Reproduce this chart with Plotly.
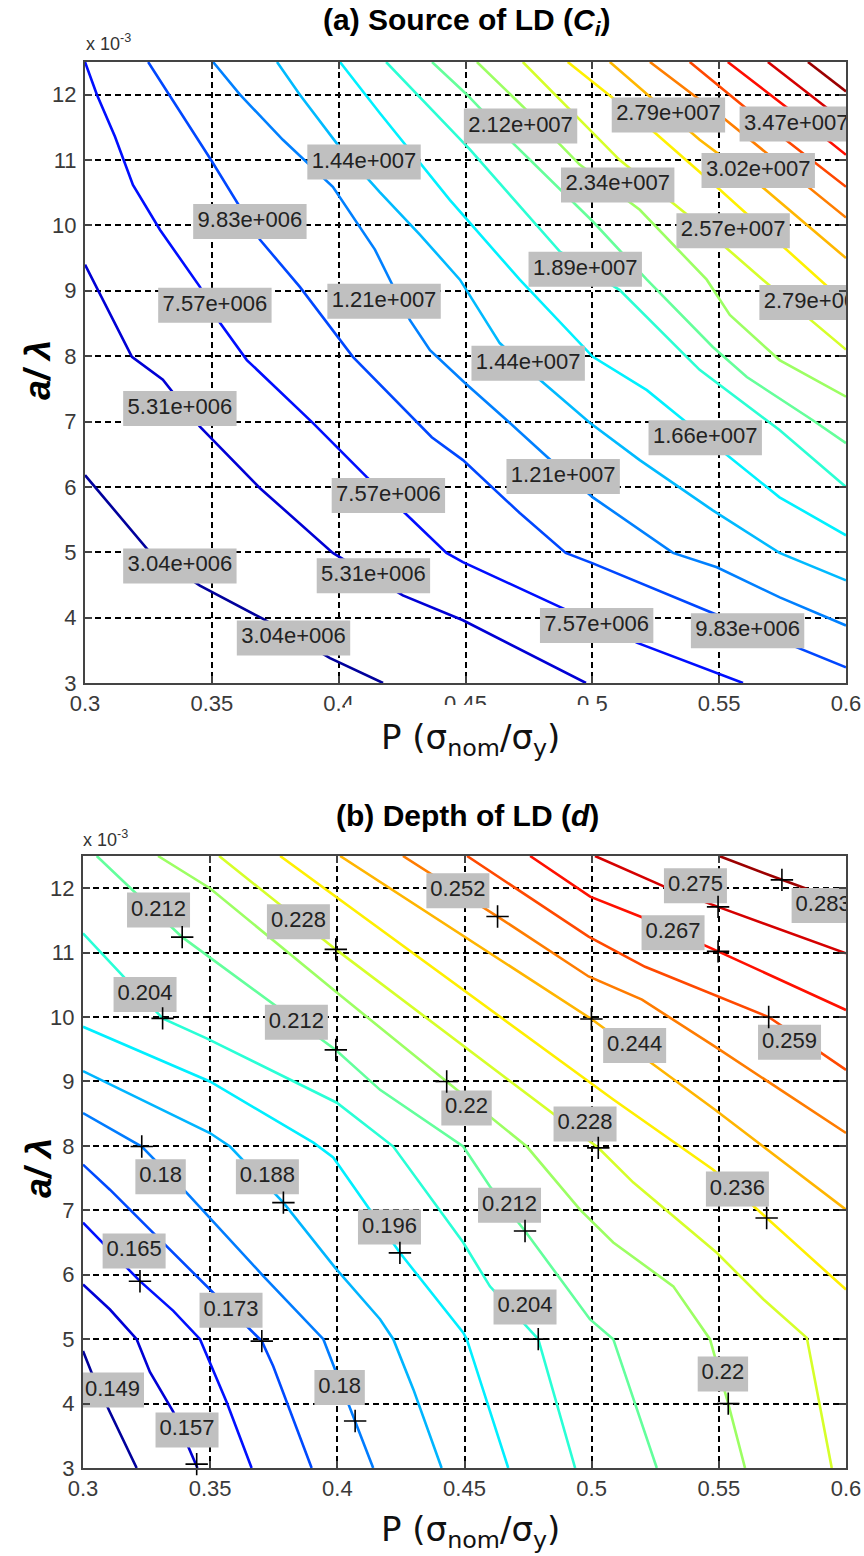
import plotly.graph_objects as go

W, H = 864, 1556

# ---------------- axes ticks ----------------
X_TICKS = [0.3, 0.35, 0.4, 0.45, 0.5, 0.55, 0.6]
X_TICK_TEXT = ["0.3", "0.35", "0.4", "0.45", "0.5", "0.55", "0.6"]
Y_TICKS = [3, 4, 5, 6, 7, 8, 9, 10, 11, 12]
Y_TICK_TEXT = ["3", "4", "5", "6", "7", "8", "9", "10", "11", "12"]

# ---------------- (a) Source of LD: contour levels and traced lines ----------------
A_LEVELS = [3.04e6, 5.31e6, 7.57e6, 9.83e6, 1.21e7, 1.44e7, 1.66e7, 1.89e7, 2.12e7,
            2.34e7, 2.57e7, 2.79e7, 3.02e7, 3.25e7, 3.47e7, 3.70e7, 3.92e7, 4.15e7]
A_CLIM = [1.91e6, 4.26e7]

A00_X = [0.3, 0.3229, 0.3256, 0.3453, 0.3702, 0.3966, 0.4175]
A00_Y = [6.18, 5.11, 5.0, 4.49, 3.98, 3.38, 3.0]
A01_X = [0.3, 0.3185, 0.3307, 0.3453, 0.369, 0.3977, 0.4253, 0.449, 0.4975]
A01_Y = [9.40, 7.99, 7.64, 6.92, 5.98, 4.99, 4.34, 3.96, 3.0]
A02_X = [0.3, 0.3047, 0.3118, 0.3189, 0.3296, 0.3453, 0.3532, 0.3638, 0.3898, 0.4111,
         0.4261, 0.4425, 0.449, 0.4859, 0.518, 0.5594]
A02_Y = [12.5, 12.0, 11.36, 10.62, 9.93, 9.06, 8.51, 7.94, 6.98, 6.15,
         5.6, 4.99, 4.85, 4.19, 3.61, 3.0]
A03_X = [0.3249, 0.3497, 0.369, 0.3847, 0.4056, 0.4367, 0.449, 0.4714, 0.4895, 0.5002, 0.5474, 0.6]
A03_Y = [12.5, 11.0, 9.78, 9.06, 7.99, 6.76, 6.41, 5.6, 4.99, 4.83, 4.07, 3.24]
A04_X = [0.3505, 0.3611, 0.378, 0.3977, 0.4143, 0.4281, 0.436, 0.4498, 0.4663, 0.4821,
         0.5002, 0.5318, 0.5491, 0.5739, 0.6]
A04_Y = [12.5, 12.0, 11.31, 10.59, 9.63, 8.55, 8.09, 7.59, 7.02, 6.46,
         5.84, 4.99, 4.77, 4.31, 3.88]
A05_X = [0.3757, 0.3847, 0.4005, 0.4162, 0.432, 0.4478, 0.4635, 0.4793, 0.499, 0.5187,
         0.5475, 0.5738, 0.6]
A05_Y = [12.5, 12.0, 11.19, 10.51, 9.86, 9.17, 8.2, 7.64, 6.98, 6.41, 5.64, 4.99, 4.57]
A06_X = [0.4005, 0.4162, 0.4438, 0.4714, 0.5002, 0.5215, 0.5345, 0.5542, 0.5738, 0.6]
A06_Y = [12.5, 11.72, 10.39, 9.17, 7.99, 7.48, 7.07, 6.46, 5.84, 5.26]
A07_X = [0.4187, 0.4518, 0.4872, 0.5108, 0.5423, 0.5738, 0.6]
A07_Y = [12.5, 11.16, 9.6, 9.01, 7.79, 6.87, 6.0]
A08_X = [0.4368, 0.4506, 0.4687, 0.5002, 0.5215, 0.5475, 0.5609, 0.5869, 0.6]
A08_Y = [12.5, 12.0, 11.26, 10.06, 9.17, 8.14, 7.68, 7.02, 6.67]
A09_X = [0.4545, 0.4726, 0.495, 0.5187, 0.5451, 0.5542, 0.5738, 0.6]
A09_Y = [12.5, 11.82, 10.93, 10.24, 9.17, 8.63, 7.94, 7.38]
A10_X = [0.4726, 0.4911, 0.5108, 0.5423, 0.5672, 0.6]
A10_Y = [12.5, 11.77, 11.0, 10.01, 9.17, 8.1]
A11_X = [0.4903, 0.5187, 0.5502, 0.6]
A11_Y = [12.5, 11.62, 10.55, 8.81]
A12_X = [0.5069, 0.5423, 0.566, 0.6]
A12_Y = [12.5, 11.31, 10.62, 9.5]
A13_X = [0.5227, 0.5502, 0.6]
A13_Y = [12.5, 11.69, 10.12]
A14_X = [0.5384, 0.566, 0.6]
A14_Y = [12.5, 11.62, 10.59]
A15_X = [0.5534, 0.5778, 0.6]
A15_Y = [12.5, 11.77, 11.08]
A16_X = [0.5692, 0.6]
A16_Y = [12.5, 11.57]
A17_X = [0.585, 0.6]
A17_Y = [12.5, 12.05]

A_LABEL_TEXT = ["9.83e+006", "1.44e+007", "7.57e+006", "1.21e+007", "5.31e+006",
                "3.04e+006", "3.04e+006", "7.57e+006", "5.31e+006", "2.12e+007",
                "2.79e+007", "3.47e+007", "3.02e+007", "2.34e+007", "2.57e+007",
                "1.89e+007", "2.79e+007", "1.44e+007", "1.66e+007", "1.21e+007",
                "7.57e+006", "9.83e+006"]
A_LABEL_X = [0.3650, 0.4100, 0.3512, 0.4179, 0.3374, 0.3374, 0.3822, 0.4196, 0.4137, 0.4717,
             0.5300, 0.5804, 0.5654, 0.5100, 0.5555, 0.4972, 0.5882, 0.4747, 0.5445, 0.4885,
             0.5017, 0.5612]
A_LABEL_Y = [10.06, 10.97, 8.78, 8.84, 7.20, 4.79, 3.69, 5.87, 4.64, 11.52,
             11.69, 11.55, 10.84, 10.62, 9.92, 9.33, 8.82, 7.89, 6.75, 6.16,
             3.88, 3.80]

# ---------------- (b) Depth of LD: contour levels and traced lines ----------------
B_LEVELS = [0.149, 0.157, 0.165, 0.173, 0.180, 0.188, 0.196, 0.204, 0.212,
            0.220, 0.228, 0.236, 0.244, 0.252, 0.259, 0.267, 0.275, 0.283]
B_CLIM = [0.1451, 0.2869]

B00_X = [0.3, 0.3034, 0.3106, 0.3211]
B00_Y = [4.815, 4.48, 3.865, 3.0]
B01_X = [0.3, 0.3106, 0.3211, 0.3263, 0.3355, 0.345]
B01_Y = [5.85, 5.46, 5.0, 4.49, 3.87, 3.0]
B02_X = [0.3, 0.3224, 0.3355, 0.346, 0.3565, 0.3663]
B02_Y = [6.81, 5.9, 5.44, 5.0, 4.02, 3.0]
B03_X = [0.3, 0.3106, 0.3276, 0.3486, 0.3703, 0.3748, 0.3899]
B03_Y = [7.71, 7.32, 6.65, 5.82, 4.97, 4.58, 3.0]
B04_X = [0.3, 0.3231, 0.3408, 0.3709, 0.3945, 0.407, 0.4141]
B04_Y = [8.51, 7.99, 7.27, 5.98, 5.0, 3.73, 3.0]
B05_X = [0.3, 0.3499, 0.3578, 0.3788, 0.3991, 0.4168, 0.422, 0.4299, 0.441]
B05_Y = [9.16, 8.2, 7.99, 7.12, 6.11, 5.31, 5.0, 4.22, 3.0]
B06_X = [0.3, 0.3499, 0.3906, 0.3984, 0.4246, 0.4495, 0.4509, 0.4672]
B06_Y = [9.85, 9.0, 8.05, 7.82, 6.34, 5.1, 5.0, 3.0]
B07_X = [0.3, 0.3313, 0.3486, 0.3998, 0.422, 0.4495, 0.46, 0.479, 0.4935]
B07_Y = [11.3, 9.98, 9.67, 8.67, 7.99, 6.5, 5.82, 5.0, 3.0]
B08_X = [0.3054, 0.339, 0.3994, 0.4168, 0.4495, 0.46, 0.4738, 0.4993, 0.5085, 0.5256]
B08_Y = [12.5, 11.24, 9.49, 8.87, 7.99, 7.37, 6.68, 5.31, 5.0, 3.0]
B09_X = [0.3295, 0.3499, 0.3998, 0.443, 0.46, 0.4745, 0.4954, 0.5085, 0.5321, 0.5465, 0.5537, 0.5603]
B09_Y = [12.5, 12.0, 10.38, 9.0, 8.46, 7.99, 7.01, 6.5, 5.82, 5.0, 4.0, 3.0]
B10_X = [0.3535, 0.3994, 0.5026, 0.5164, 0.5492, 0.5675, 0.5846, 0.5944]
B10_Y = [12.5, 11.05, 7.97, 7.43, 6.34, 5.62, 5.02, 3.0]
B11_X = [0.3775, 0.5085, 0.5478, 0.5688, 0.6]
B11_Y = [12.5, 8.72, 7.63, 6.88, 5.77]
B12_X = [0.4011, 0.4999, 0.5485, 0.6]
B12_Y = [12.5, 9.97, 8.56, 7.01]
B13_X = [0.4258, 0.463, 0.4988, 0.5198, 0.5485, 0.6]
B13_Y = [12.5, 11.56, 10.63, 10.27, 9.54, 8.2]
B14_X = [0.451, 0.4988, 0.521, 0.5696, 0.6]
B14_Y = [12.5, 11.25, 10.78, 10.0, 9.18]
B15_X = [0.4758, 0.4994, 0.5198, 0.5497, 0.6]
B15_Y = [12.5, 11.87, 11.55, 11.02, 10.11]
B16_X = [0.5013, 0.5288, 0.5497, 0.6]
B16_Y = [12.5, 12.02, 11.71, 10.99]
B17_X = [0.5501, 0.5748, 0.6]
B17_Y = [12.5, 12.13, 11.77]

B_LABEL_TEXT = ["0.212", "0.204", "0.228", "0.212", "0.252", "0.22", "0.275", "0.267",
                "0.283", "0.244", "0.259", "0.228", "0.236", "0.212", "0.204", "0.22",
                "0.196", "0.18", "0.188", "0.165", "0.173", "0.149", "0.157", "0.18"]
B_LABEL_X = [0.3297, 0.3244, 0.3847, 0.3839, 0.4474, 0.4508, 0.5408, 0.5320,
             0.5910, 0.5169, 0.5778, 0.4974, 0.5573, 0.4677, 0.4738, 0.5516,
             0.4205, 0.3305, 0.3725, 0.3201, 0.3582, 0.3116, 0.3409, 0.4009]
B_LABEL_Y = [11.66, 10.35, 11.48, 9.92, 11.96, 8.59, 12.04, 11.31,
             11.73, 9.56, 9.61, 8.34, 7.33, 7.08, 5.50, 4.46,
             6.74, 7.52, 7.52, 6.37, 5.45, 4.21, 3.59, 4.25]
B_PLUS_X = [0.3390, 0.3313, 0.3994, 0.3994, 0.4630, 0.4430, 0.5497, 0.5497, 0.5748,
            0.4999, 0.5696, 0.5026, 0.5688, 0.4738, 0.4790, 0.5537, 0.4246, 0.3231,
            0.3788, 0.3224, 0.3703, 0.3447, 0.4070]
B_PLUS_Y = [11.24, 9.98, 11.05, 9.49, 11.56, 9.0, 11.71, 11.02, 12.13,
            9.97, 10.0, 7.97, 6.88, 6.68, 5.0, 4.0, 6.34, 7.99,
            7.12, 5.90, 4.97, 3.06, 3.73]

A_LINES = [(A00_X, A00_Y), (A01_X, A01_Y), (A02_X, A02_Y), (A03_X, A03_Y), (A04_X, A04_Y),
           (A05_X, A05_Y), (A06_X, A06_Y), (A07_X, A07_Y), (A08_X, A08_Y), (A09_X, A09_Y),
           (A10_X, A10_Y), (A11_X, A11_Y), (A12_X, A12_Y), (A13_X, A13_Y), (A14_X, A14_Y),
           (A15_X, A15_Y), (A16_X, A16_Y), (A17_X, A17_Y)]
B_LINES = [(B00_X, B00_Y), (B01_X, B01_Y), (B02_X, B02_Y), (B03_X, B03_Y), (B04_X, B04_Y),
           (B05_X, B05_Y), (B06_X, B06_Y), (B07_X, B07_Y), (B08_X, B08_Y), (B09_X, B09_Y),
           (B10_X, B10_Y), (B11_X, B11_Y), (B12_X, B12_Y), (B13_X, B13_Y), (B14_X, B14_Y),
           (B15_X, B15_Y), (B16_X, B16_Y), (B17_X, B17_Y)]

X_RANGE = [0.3, 0.6]
Y_RANGE = [3, 12.5]

# ---------------- layout geometry (pixels) ----------------
BOX_A = dict(l=85, r=846, t=62, b=683)
BOX_B = dict(l=83, r=846, t=856, b=1468)

FONT = "Arial, Liberation Sans, Helvetica, sans-serif"
LABEL_CHAR_W = 12.6
LABEL_H = 35
LABEL_BG = "#c0c0c0"


def jet(t):
    t = min(max(t, 0.0), 1.0)
    r = min(max(1.5 - abs(4 * t - 3), 0.0), 1.0)
    g = min(max(1.5 - abs(4 * t - 2), 0.0), 1.0)
    b = min(max(1.5 - abs(4 * t - 1), 0.0), 1.0)
    return "rgb(%d,%d,%d)" % (round(r * 255), round(g * 255), round(b * 255))


def px_x(p):
    return p / W


def px_y(p):
    return 1 - p / H


fig = go.Figure()


def add_panel(lines, levels, clim, lab_text, lab_x, lab_y, box, xa, ya, plus_x=None, plus_y=None):
    # contour lines
    for (xs, ys), lev in zip(lines, levels):
        t = (lev - clim[0]) / (clim[1] - clim[0])
        fig.add_trace(go.Scatter(x=xs, y=ys, mode="lines", xaxis=xa, yaxis=ya,
                                 line=dict(color=jet(t), width=2.6),
                                 hoverinfo="skip", showlegend=False))
    # label boxes (sizes converted from pixels to data units)
    sx = (X_RANGE[1] - X_RANGE[0]) / (box["r"] - box["l"])
    sy = (Y_RANGE[1] - Y_RANGE[0]) / (box["b"] - box["t"])
    rx, ry = [], []
    for txt, cx, cy in zip(lab_text, lab_x, lab_y):
        hw = LABEL_CHAR_W * len(txt) / 2 * sx
        hh = LABEL_H / 2 * sy
        rx += [cx - hw, cx + hw, cx + hw, cx - hw, cx - hw, None]
        ry += [cy - hh, cy - hh, cy + hh, cy + hh, cy - hh, None]
    fig.add_trace(go.Scatter(x=rx, y=ry, mode="lines", fill="toself", fillcolor=LABEL_BG,
                             line=dict(width=0, color=LABEL_BG), xaxis=xa, yaxis=ya,
                             hoverinfo="skip", showlegend=False))
    fig.add_trace(go.Scatter(x=lab_x, y=lab_y, mode="text", text=lab_text,
                             textposition="middle center",
                             textfont=dict(family=FONT, size=22, color="#222222"),
                             xaxis=xa, yaxis=ya, cliponaxis=True,
                             hoverinfo="skip", showlegend=False))
    if plus_x is not None:
        fig.add_trace(go.Scatter(x=plus_x, y=plus_y, mode="markers", xaxis=xa, yaxis=ya,
                                 marker=dict(symbol="cross-thin", size=16,
                                             line=dict(width=1.6, color="black")),
                                 cliponaxis=False, hoverinfo="skip", showlegend=False))


add_panel(A_LINES, A_LEVELS, A_CLIM, A_LABEL_TEXT, A_LABEL_X, A_LABEL_Y, BOX_A, "x", "y")
add_panel(B_LINES, B_LEVELS, B_CLIM, B_LABEL_TEXT, B_LABEL_X, B_LABEL_Y, BOX_B, "x2", "y2",
          B_PLUS_X, B_PLUS_Y)

axis_common = dict(
    showgrid=True, gridcolor="#000000", gridwidth=1.6, griddash="6px,4px",
    showline=True, linecolor="#444444", linewidth=2, mirror="ticks",
    ticks="inside", ticklen=7, tickwidth=1.6, tickcolor="#444444",
    zeroline=False, automargin=False,
    tickfont=dict(family=FONT, size=22, color="#3a3a3a"),
)

fig.update_layout(
    width=W, height=H,
    margin=dict(l=0, r=0, t=0, b=0),
    paper_bgcolor="white", plot_bgcolor="white",
    showlegend=False,
    xaxis=dict(domain=[px_x(BOX_A["l"]), px_x(BOX_A["r"])], range=X_RANGE, anchor="y",
               tickvals=X_TICKS, ticktext=X_TICK_TEXT, ticklabelstandoff=0, **axis_common),
    yaxis=dict(domain=[px_y(BOX_A["b"]), px_y(BOX_A["t"])], range=Y_RANGE, anchor="x",
               tickvals=Y_TICKS, ticktext=Y_TICK_TEXT, ticklabelstandoff=2, **axis_common),
    xaxis2=dict(domain=[px_x(BOX_B["l"]), px_x(BOX_B["r"])], range=X_RANGE, anchor="y2",
                tickvals=X_TICKS, ticktext=X_TICK_TEXT, ticklabelstandoff=0, **axis_common),
    yaxis2=dict(domain=[px_y(BOX_B["b"]), px_y(BOX_B["t"])], range=Y_RANGE, anchor="x2",
                tickvals=Y_TICKS, ticktext=Y_TICK_TEXT, ticklabelstandoff=2, **axis_common),
)

# white patch of the pasted axis-label image (hides part of some tick labels)
fig.add_shape(type="rect", xref="paper", yref="paper",
              x0=px_x(345), x1=px_x(600), y0=px_y(765), y1=px_y(705),
              fillcolor="white", line=dict(width=0), layer="above")

ann = []
# titles
ann.append(dict(text="<b>(a) Source of LD (<i>C<sub>i</sub></i>)</b>", x=px_x(467), y=px_y(22)))
ann.append(dict(text="<b>(b) Depth of LD (<i>d</i>)</b>", x=px_x(467), y=px_y(815)))
for a in ann:
    a.update(xref="paper", yref="paper", showarrow=False, xanchor="center", yanchor="middle",
             font=dict(family=FONT, size=30, color="black"))
# exponent notes
for yy, xx in ((43, 84), (838, 81)):
    ann.append(dict(text="x 10<sup>-3</sup>", x=px_x(xx), y=px_y(yy), xref="paper", yref="paper",
                    showarrow=False, xanchor="left", yanchor="middle",
                    font=dict(family=FONT, size=18, color="#333333")))
# y-axis titles
for yy in (370, 1168):
    ann.append(dict(text="<b><i>a/ λ</i></b>", x=px_x(38), y=px_y(yy), xref="paper", yref="paper",
                    showarrow=False, xanchor="center", yanchor="middle", textangle=-90,
                    font=dict(family=FONT, size=36, color="black")))
# x-axis titles
for yy in (740, 1531):
    ann.append(dict(text="P (σ<sub>nom</sub>/σ<sub>y</sub>)", x=px_x(471), y=px_y(yy),
                    xref="paper", yref="paper", showarrow=False, xanchor="center",
                    yanchor="middle",
                    font=dict(family="DejaVu Sans, Noto Sans, sans-serif", size=34,
                              color="#111111")))
fig.update_layout(annotations=ann)

fig.write_html("out.html")
